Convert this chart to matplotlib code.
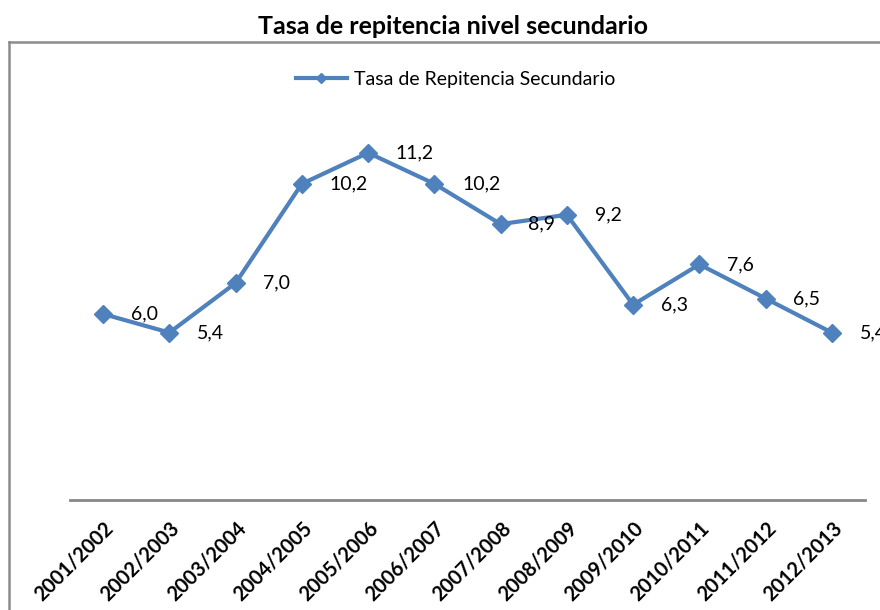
import matplotlib
matplotlib.use("Agg")
import matplotlib.pyplot as plt
from matplotlib.lines import Line2D

categories = ["2001/2002", "2002/2003", "2003/2004", "2004/2005", "2005/2006", "2006/2007",
              "2007/2008", "2008/2009", "2009/2010", "2010/2011", "2011/2012", "2012/2013"]
values = [6.0, 5.4, 7.0, 10.2, 11.2, 10.2, 8.9, 9.2, 6.3, 7.6, 6.5, 5.4]
series_name = "Tasa de Repitencia Secundario"
title = "Tasa de repitencia nivel secundario"

plt.rcParams['font.family'] = ['Lato', 'DejaVu Sans']

W, H = 880, 610
fig = plt.figure(figsize=(W / 100, H / 100), dpi=100)

# outer frame (left and top edges visible, right/bottom cut off)
fig.add_artist(Line2D([9 / W, 9 / W], [0, 1 - 42 / H], color="#8c8c8c", lw=1.8, transform=fig.transFigure))
fig.add_artist(Line2D([9 / W, 1], [1 - 42 / H, 1 - 42 / H], color="#8c8c8c", lw=1.8, transform=fig.transFigure))

ax = fig.add_axes([70 / W, 1 - 500 / H, (865 - 70) / W, (500 - 66) / H])
x = list(range(len(categories)))
color = "#4F81BD"
ax.plot(x, values, color=color, lw=3, marker="D", ms=9, mec=color, mfc=color, zorder=3)
ax.set_xlim(-0.5, len(categories) - 0.5)
ax.set_ylim(0, 14)

for xi, v in zip(x, values):
    ax.annotate(f"{v:.1f}".replace(".", ","), (xi, v), xytext=(20, 0), textcoords="offset points",
                ha="left", va="center", fontsize=14, color="black", clip_on=False, annotation_clip=False)

for s in ["left", "right", "top"]:
    ax.spines[s].set_visible(False)
ax.spines["bottom"].set_color("#868686")
ax.spines["bottom"].set_linewidth(2)
ax.set_yticks([])
ax.set_xticks(x)
ax.set_xticklabels(categories, rotation=45, ha="right", va="top", rotation_mode="anchor",
                   fontsize=14.5, fontweight="bold")
ax.tick_params(axis="x", length=0, pad=13)

fig.text(453 / W, 1 - 26 / H, title, ha="center", va="center", fontsize=18, fontweight="bold")

leg_handle = Line2D([], [], color=color, lw=3, marker="D", ms=5, mec=color, mfc=color)
fig.legend([leg_handle], [series_name], loc="center", bbox_to_anchor=(456 / W, 1 - 79 / H),
           frameon=False, fontsize=14, handlelength=2.6, handletextpad=0.4)

fig.savefig("out.png", dpi=100)
